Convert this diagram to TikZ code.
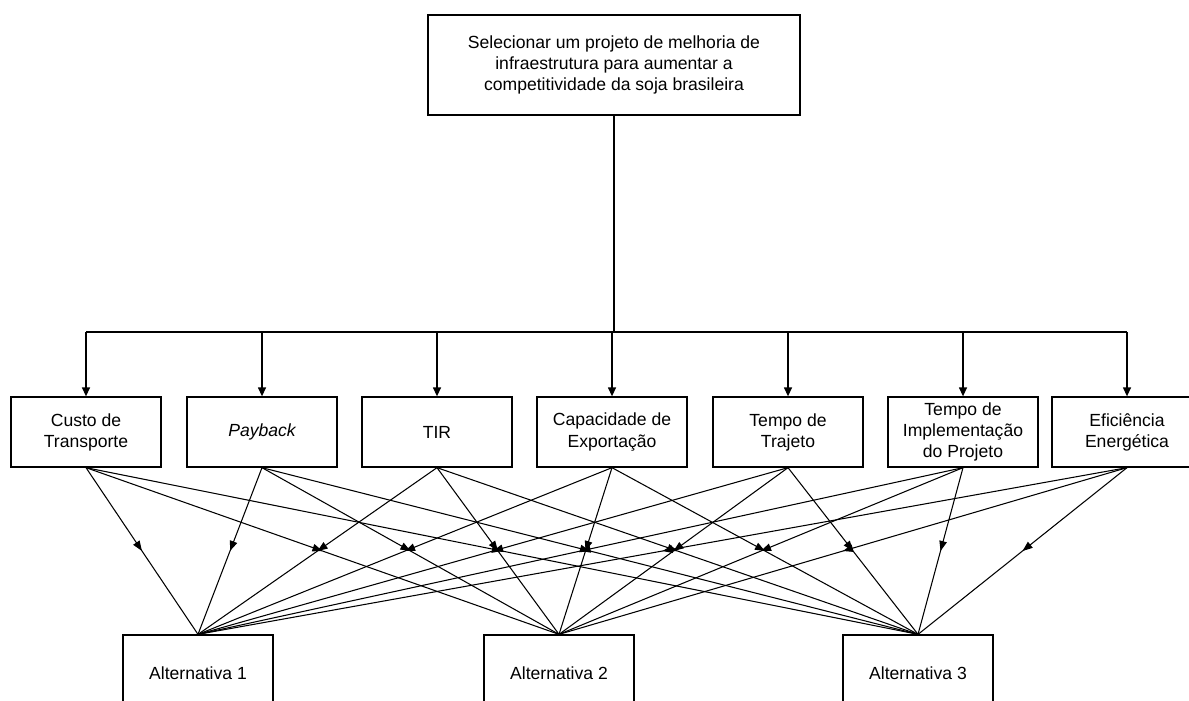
\documentclass[tikz,border=0pt]{standalone}
\usepackage{fontspec}
\setmainfont{Liberation Sans}
\usetikzlibrary{positioning}
\usetikzlibrary{arrows.meta}
\usetikzlibrary{decorations.markings}

\tikzset{
	caixa/.style={draw,line width=0.75pt,minimum width=3cm,minimum height=1.4cm,
		inner sep=0pt,align=center,font=\fontsize{10}{12}\selectfont},
	seta/.style={line width=0.75pt,-{Triangle[length=1.8mm,width=1.6mm]}},
	liga/.style={line width=0.6pt,postaction={decorate},
		decoration={markings,mark=at position 0.5 with {\arrow{Triangle[length=2mm,width=1.5mm]}}}}
}

\begin{document}
\begin{tikzpicture}[x=0.02cm,y=-0.02cm]
	\useasboundingbox (0,0) rectangle (1189,700);
	\clip (0,0) rectangle (1189,700);
	% objetivo
	\node[caixa,minimum width=7.44cm,minimum height=2cm] (goal) at (614,65)
		{Selecionar um projeto de melhoria de\\infraestrutura para aumentar a\\competitividade da soja brasileira};
	% criterios
	\node[caixa] (crit1) at (86,432)   {Custo de\\Transporte};
	\node[caixa] (crit2) at (262,432)  {\itshape Payback};
	\node[caixa] (crit3) at (437,432)  {TIR};
	\node[caixa] (crit4) at (612,432)  {Capacidade de\\Exportação};
	\node[caixa] (crit5) at (788,432)  {Tempo de\\Trajeto};
	\node[caixa] (crit6) at (963,432)  {Tempo de\\Implementação\\do Projeto};
	\node[caixa] (crit7) at (1127,432) {Eficiência\\Energética};
	% alternativas
	\node[caixa,minimum height=1.52cm] (alt1) at (198,673) {Alternativa 1};
	\node[caixa,minimum height=1.52cm] (alt2) at (559,673) {Alternativa 2};
	\node[caixa,minimum height=1.52cm] (alt3) at (918,673) {Alternativa 3};
	% barramento
	\coordinate (bus) at (614,332);
	\draw[line width=0.75pt] (goal.south) -- (bus);
	\draw[line width=0.75pt] (crit1.north |- bus) -- (crit7.north |- bus);
	\foreach \i in {1,...,7}
		\draw[seta] (crit\i.north |- bus) -- (crit\i.north);
	% ligacoes criterio -> alternativa
	\foreach \i in {1,...,7}
		\foreach \j in {1,2,3}
			\draw[liga] (crit\i.south) -- (alt\j.north);
\end{tikzpicture}
\end{document}
